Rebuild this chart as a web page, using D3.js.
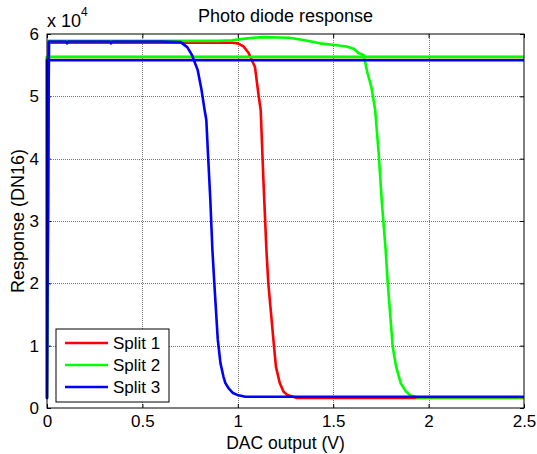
<!DOCTYPE html>
<html>
<head>
<meta charset="utf-8">
<script src="https://cdn.jsdelivr.net/npm/d3@7"></script>
<style>
  body { margin: 0; background: #fff; }
  text { font-family: "Liberation Sans", Arial, sans-serif; }
</style>
</head>
<body>
<svg id="chart" width="537" height="454"></svg>
<script>
var width = 537;
var height = 454;
var margin = { top: 34, right: 13, bottom: 46, left: 47 };

// DAC output (V) and response (DN16)
var seriesNames = ['Split 1', 'Split 2', 'Split 3'];
var seriesColors = ['#ff0000', '#00ff00', '#0000ff'];

var split1X = [2.5, 0, 0, 0.01, 0.5, 0.97, 1.0, 1.03, 1.056, 1.09, 1.11, 1.12, 1.135, 1.15, 1.16, 1.19, 1.20, 1.22, 1.24, 1.26, 1.31, 1.6, 2.0, 2.5];
var split1Y = [56300, 56300, 1600, 58600, 58600, 58600, 58500, 58000, 57000, 54700, 49900, 47800, 36000, 25300, 20000, 9800, 6600, 4000, 2600, 2100, 1600, 1600, 1600, 1600];

var split2X = [2.5, 0, 0, 0.01, 0.5, 0.9, 0.97, 1.05, 1.13, 1.27, 1.35, 1.43, 1.52, 1.57, 1.61, 1.63, 1.66, 1.68, 1.70, 1.72, 1.738, 1.755, 1.775, 1.786, 1.812, 1.83, 1.854, 1.88, 1.906, 1.943, 2.2, 2.5];
var split2Y = [56300, 56300, 1600, 58900, 58900, 58900, 59000, 59300, 59500, 59400, 59000, 58500, 58200, 58000, 57600, 57000, 56600, 53700, 51500, 47800, 41000, 33000, 25300, 20000, 9800, 6600, 4000, 2700, 2000, 1700, 1700, 1700];

var split3X = [2.5, 0, 0, 0.01, 0.1, 0.105, 0.11, 0.33, 0.335, 0.34, 0.6, 0.7, 0.735, 0.76, 0.79, 0.81, 0.825, 0.835, 0.845, 0.856, 0.867, 0.877, 0.895, 0.909, 0.925, 0.935, 0.951, 0.975, 0.997, 1.04, 1.5, 2.0, 2.5];
var split3Y = [55800, 55800, 1600, 58800, 58800, 58500, 58800, 58800, 58500, 58800, 58800, 58700, 57900, 56600, 54200, 51000, 48000, 46200, 40000, 33400, 25300, 20000, 11000, 7200, 5000, 4000, 3200, 2400, 2100, 1800, 1800, 1800, 1800];

var xTicks = [0, 0.5, 1, 1.5, 2, 2.5];
var yTicks = [0, 1, 2, 3, 4, 5, 6];

var seriesX = [split1X, split2X, split3X];
var seriesY = [split1Y, split2Y, split3Y];

var svg = d3.select('#chart');
var plotW = width - margin.left - margin.right;
var plotH = height - margin.top - margin.bottom;

var xScale = d3.scaleLinear().domain([0, 2.5]).range([0, plotW]);
var yScale = d3.scaleLinear().domain([0, 6]).range([plotH, 0]);

var g = svg.append('g')
    .attr('transform', 'translate(' + margin.left + ',' + margin.top + ')');

/* Grid */
g.append('g')
    .selectAll('line')
    .data(xTicks.slice(1, -1))
    .join('line')
    .attr('x1', function(d) { return Math.round(xScale(d)) + 0.5; })
    .attr('x2', function(d) { return Math.round(xScale(d)) + 0.5; })
    .attr('y1', 0)
    .attr('y2', plotH)
    .style('stroke', '#777')
    .style('stroke-dasharray', '1,1');

g.append('g')
    .selectAll('line')
    .data(yTicks.slice(1, -1))
    .join('line')
    .attr('y1', function(d) { return Math.round(yScale(d)) + 0.5; })
    .attr('y2', function(d) { return Math.round(yScale(d)) + 0.5; })
    .attr('x1', 0)
    .attr('x2', plotW)
    .style('stroke', '#777')
    .style('stroke-dasharray', '1,1');

/* Axes */
var xAxis = d3.axisBottom(xScale).tickValues(xTicks).tickSize(-4).tickPadding(7)
    .tickFormat(function(d) { return String(d); });
var yAxis = d3.axisLeft(yScale).tickValues(yTicks).tickSize(-4).tickPadding(8)
    .tickFormat(function(d) { return String(d); });

function styleAxis(sel) {
    sel.select('.domain').remove();
    sel.selectAll('line').style('stroke', '#000');
    sel.selectAll('text').style('font-size', '17px').style('fill', '#000')
        .style('font-family', '"Liberation Sans", Arial, sans-serif');
}

g.append('g').attr('transform', 'translate(0,' + plotH + ')').call(xAxis).call(styleAxis);
g.append('g').call(yAxis).call(styleAxis);
g.append('g').call(d3.axisTop(xScale).tickValues(xTicks).tickSize(-4).tickFormat(''))
    .call(styleAxis);
g.append('g').attr('transform', 'translate(' + plotW + ',0)')
    .call(d3.axisRight(yScale).tickValues(yTicks).tickSize(-4).tickFormat(''))
    .call(styleAxis);

/* Lines */
var line = d3.line()
    .x(function(d) { return xScale(d[0]); })
    .y(function(d) { return yScale(d[1] / 10000); });

g.append('g')
    .selectAll('path')
    .data(seriesNames)
    .join('path')
    .attr('d', function(d, i) {
        return line(d3.zip(seriesX[i], seriesY[i]));
    })
    .style('fill', 'none')
    .style('stroke', function(d, i) { return seriesColors[i]; })
    .style('stroke-width', 2.6)
    .style('stroke-linejoin', 'round');

/* Box */
g.append('rect')
    .attr('x', 0).attr('y', 0)
    .attr('width', plotW).attr('height', plotH)
    .style('fill', 'none')
    .style('stroke', '#000')
    .style('stroke-width', 1);

/* Legend */
var legend = g.append('g').attr('transform', 'translate(9,295)');
legend.append('rect')
    .attr('x', 0).attr('y', 0)
    .attr('width', 113).attr('height', 73)
    .style('fill', '#fff')
    .style('stroke', '#000');

var rows = legend.selectAll('g')
    .data(seriesNames)
    .join('g')
    .attr('transform', function(d, i) { return 'translate(0,' + (14 + i * 22) + ')'; });

rows.append('line')
    .attr('x1', 9).attr('x2', 52)
    .style('stroke', function(d, i) { return seriesColors[i]; })
    .style('stroke-width', 2.6);

rows.append('text')
    .attr('x', 57)
    .attr('dy', '0.35em')
    .style('font-size', '17px')
    .text(function(d) { return d; });

/* Titles */
svg.append('text')
    .attr('x', margin.left + plotW / 2)
    .attr('y', 22)
    .attr('text-anchor', 'middle')
    .style('font-size', '18px')
    .text('Photo diode response');

svg.append('text')
    .attr('x', margin.left + plotW / 2)
    .attr('y', 449)
    .attr('text-anchor', 'middle')
    .style('font-size', '17.5px')
    .text('DAC output (V)');

svg.append('text')
    .attr('transform', 'translate(24,' + (margin.top + plotH / 2) + ') rotate(-90)')
    .attr('text-anchor', 'middle')
    .style('font-size', '18px')
    .text('Response (DN16)');

var expo = svg.append('text')
    .attr('x', 47)
    .attr('y', 27)
    .style('font-size', '18px');
expo.append('tspan').text('x 10');
expo.append('tspan').attr('dy', -11).style('font-size', '12px').text('4');
</script>
</body>
</html>
